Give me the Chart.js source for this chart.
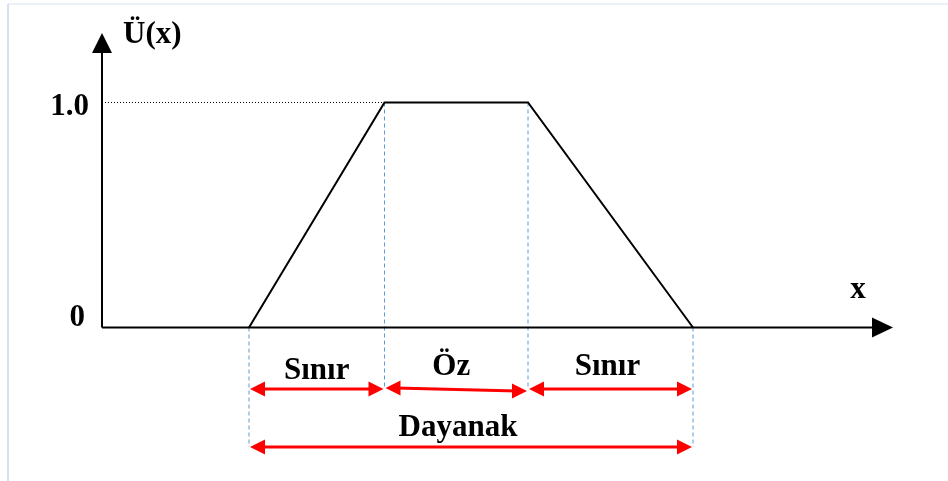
<!DOCTYPE html>
<html>
<head>
<meta charset="utf-8">
<script src="https://cdn.jsdelivr.net/npm/chart.js@4/dist/chart.umd.min.js"></script>
<style>
  body { margin: 0; background: #fff; }
  #wrap { position: relative; width: 948px; height: 481px; }
</style>
</head>
<body>
<div id="wrap"><canvas id="chart" width="948" height="481"></canvas></div>
<script>
// trapezoid membership function: corners a, b, c, d and the membership at each
const corners = [14.7, 28.25, 42.6, 59.1];
const membership = [0, 1, 1, 0];
// y tick values and their labels
const yTicks = [0, 1];
const yTickLabels = ['0', '1.0'];
// axis titles
const yTitle = 'Ü(x)';
const xTitle = 'x';
// labels of the three parts between the corners, and of the whole support
const partLabels = ['Sınır', 'Öz', 'Sınır'];
const supportLabel = 'Dayanak';

const FONT = 'bold 31px "Liberation Serif", "Times New Roman", serif';
const RED = '#ff0000';
const BLUE = '#5b9bd5';

// dashed guide from a corner down to the arrow rows
function guide(x, top, bottom) {
    return {
        data: [{x: x, y: top}, {x: x, y: bottom}],
        borderColor: BLUE, borderWidth: 1, borderDash: [4, 3],
        pointRadius: 0, order: 3
    };
}

var datasets = [];
datasets.push({
    label: 'trapez',
    data: corners.map(function(c, i) { return {x: c, y: membership[i]}; }),
    borderColor: '#000', borderWidth: 2, pointRadius: 0, tension: 0, order: 1
});
// dotted line from the y axis to the plateau
datasets.push({
    data: [{x: 0, y: 1}, {x: corners[1], y: 1}],
    borderColor: '#000', borderWidth: 1, borderDash: [1, 2], pointRadius: 0, order: 2
});
datasets.push(guide(corners[0], 0, -0.531));
datasets.push(guide(corners[1], 1, -0.262));
datasets.push(guide(corners[2], 1, -0.262));
datasets.push(guide(corners[3], 0, -0.531));

function head(ctx, x, y, dir) {
    ctx.beginPath();
    ctx.moveTo(x, y);
    ctx.lineTo(x - dir * 15, y - 7.5);
    ctx.lineTo(x - dir * 15, y + 7.5);
    ctx.closePath();
    ctx.fill();
}

function redArrow(ctx, x1, y1, x2, y2) {
    ctx.save();
    ctx.strokeStyle = RED;
    ctx.fillStyle = RED;
    ctx.lineWidth = 3;
    ctx.beginPath();
    ctx.moveTo(x1 + 10, y1);
    ctx.lineTo(x2 - 10, y2);
    ctx.stroke();
    head(ctx, x1, y1, -1);
    head(ctx, x2, y2, 1);
    ctx.restore();
}

const diagram = {
    id: 'diagram',
    afterDatasetsDraw: function(chart) {
        var ctx = chart.ctx;
        var xs = chart.scales.x, ys = chart.scales.y;
        var X = function(v) { return xs.getPixelForValue(v); };
        var Y = function(v) { return ys.getPixelForValue(v); };
        var x0 = X(0), y0 = Y(0);

        ctx.save();
        // faint frame of the original picture
        ctx.strokeStyle = '#eaf1f9';
        ctx.lineWidth = 2;
        ctx.beginPath();
        ctx.moveTo(8, 4); ctx.lineTo(948, 4);
        ctx.stroke();
        ctx.strokeStyle = '#d3e2f1';
        ctx.beginPath();
        ctx.moveTo(8, 4); ctx.lineTo(8, 481);
        ctx.stroke();

        // axes with arrow heads
        ctx.strokeStyle = '#000';
        ctx.fillStyle = '#000';
        ctx.lineWidth = 2;
        ctx.beginPath();
        ctx.moveTo(x0, y0); ctx.lineTo(x0, 50);
        ctx.moveTo(x0, y0); ctx.lineTo(874, y0);
        ctx.stroke();
        ctx.beginPath();
        ctx.moveTo(x0, 33); ctx.lineTo(x0 - 10, 53); ctx.lineTo(x0 + 10, 53);
        ctx.closePath(); ctx.fill();
        ctx.beginPath();
        ctx.moveTo(893, y0); ctx.lineTo(872, y0 - 10); ctx.lineTo(872, y0 + 10);
        ctx.closePath(); ctx.fill();

        // texts
        ctx.font = FONT;
        ctx.textBaseline = 'alphabetic';
        ctx.textAlign = 'left';
        ctx.fillText(yTitle, x0 + 21, 43);
        ctx.textAlign = 'center';
        ctx.fillText(xTitle, 858, y0 - 30);
        ctx.textAlign = 'right';
        ctx.fillText(yTickLabels[1], x0 - 13, Y(yTicks[1]) + 12.5);
        ctx.fillText(yTickLabels[0], x0 - 17, Y(yTicks[0]) - 1.5);

        // red arrows under the axis
        var px = corners.map(X);
        var row1 = Y(-0.273), row2 = Y(-0.531);
        redArrow(ctx, px[0] + 1, row1, px[1] - 1, row1);
        redArrow(ctx, px[1] + 1, row1 - 1, px[2] - 1, row1 + 2);
        redArrow(ctx, px[2] + 1, row1, px[3] - 1, row1);
        redArrow(ctx, px[0] + 1, row2, px[3] - 1, row2);

        ctx.fillStyle = '#000';
        ctx.textAlign = 'center';
        ctx.fillText(partLabels[0], (px[0] + px[1]) / 2, row1 - 10);
        ctx.fillText(partLabels[1], (px[1] + px[2]) / 2 - 5, row1 - 14);
        ctx.fillText(partLabels[2], (px[2] + px[3]) / 2 - 3, row1 - 14);
        ctx.fillText(supportLabel, (px[0] + px[3]) / 2 - 13, row2 - 11);
        ctx.restore();
    }
};

new Chart(document.getElementById('chart'), {
    type: 'line',
    data: {datasets: datasets},
    options: {
        responsive: false,
        animation: false,
        devicePixelRatio: 1,
        layout: {padding: 0},
        plugins: {legend: {display: false}, tooltip: {enabled: false}},
        elements: {line: {fill: false}},
        scales: {
            x: {type: 'linear', display: false, min: -10.2, max: 84.6},
            y: {type: 'linear', display: false, min: -0.6822, max: 1.4556}
        }
    },
    plugins: [diagram]
});
</script>
</body>
</html>
